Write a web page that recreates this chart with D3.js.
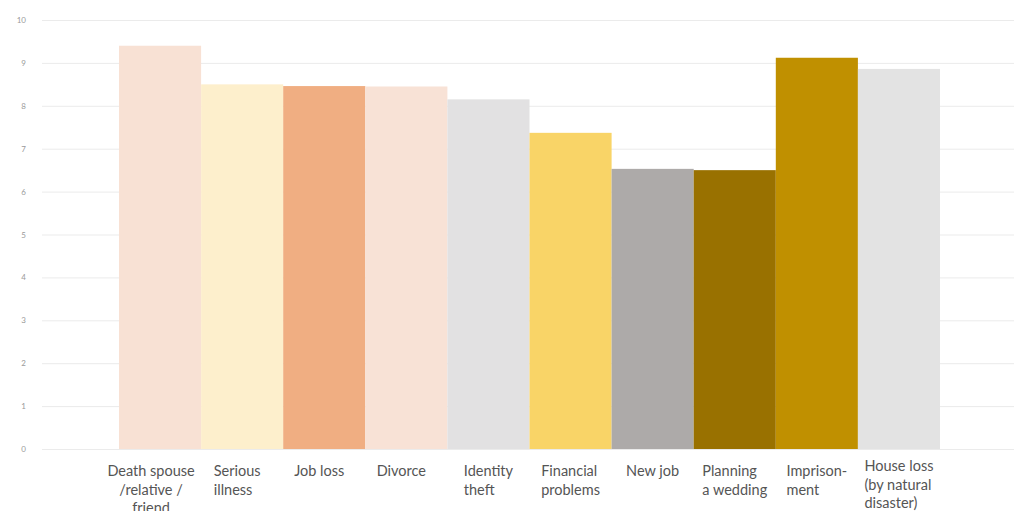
<!DOCTYPE html>
<html>
<head>
<meta charset="utf-8">
<script src="https://cdn.jsdelivr.net/npm/d3@7"></script>
<style>
  body { margin: 0; background: #fff; }
</style>
</head>
<body>
<div id="chart"></div>
<script>
// data
var categories = ["Death spouse", "Serious illness", "Job loss", "Divorce", "Identity theft",
  "Financial problems", "New job", "Planning a wedding", "Imprisonment", "House loss"];
var labelLines = [
  ["Death spouse", "/relative /", "friend"],
  ["Serious", "illness"],
  ["Job loss"],
  ["Divorce"],
  ["Identity", "theft"],
  ["Financial", "problems"],
  ["New job"],
  ["Planning", "a wedding"],
  ["Imprison-", "ment"],
  ["House loss", "(by natural", "disaster)"]
];
var values = [9.4, 8.5, 8.46, 8.45, 8.15, 7.37, 6.53, 6.5, 9.12, 8.86];
var barColors = ["#f8e1d4", "#fdefcc", "#f0ae82", "#f8e2d6", "#e2e1e2",
  "#f9d467", "#adaaa9", "#997100", "#c09000", "#e3e3e3"];
var yTicks = [0, 1, 2, 3, 4, 5, 6, 7, 8, 9, 10];

var width = 1014, height = 511;
var margin = {top: 20, bottom: 62, left: 119, right: 74};

var svg = d3.select("#chart")
  .append("svg")
  .attr("width", width)
  .attr("height", height);

var x = d3.scaleBand()
  .domain(categories)
  .range([margin.left, width - margin.right])
  .padding(0);

var y = d3.scaleLinear()
  .domain([0, 10])
  .range([height - margin.bottom, margin.top]);

// gridlines + tick labels
var yAxis = svg.append("g")
  .attr("transform", "translate(26,0)")
  .call(d3.axisLeft(y).tickValues(yTicks).tickSize(0).tickPadding(0));
yAxis.select(".domain").remove();
yAxis.selectAll("text")
  .attr("fill", "#9a9a9a")
  .attr("font-family", "Lato, sans-serif")
  .attr("font-size", "8px");
yAxis.selectAll(".tick").append("line")
  .attr("x1", 16)
  .attr("x2", width)
  .attr("stroke", "#ebebeb")
  .attr("stroke-width", 1);

// bars
svg.append("g")
  .selectAll("rect")
  .data(values)
  .join("rect")
  .attr("x", function(d, i) { return x(categories[i]); })
  .attr("y", function(d) { return y(d); })
  .attr("width", x.bandwidth())
  .attr("height", function(d) { return y(0) - y(d); })
  .attr("fill", function(d, i) { return barColors[i]; });

// category labels, left aligned block centred under the bar (first one centred per line)
var labels = svg.append("g")
  .attr("font-family", "Lato, sans-serif")
  .attr("font-size", "14.5px")
  .attr("fill", "#555");

categories.forEach(function(c, i) {
  var last = i == categories.length - 1;
  var t = labels.append("text")
    .attr("y", last ? 471 : 476);
  labelLines[i].forEach(function(line, k) {
    t.append("tspan")
      .attr("dy", k == 0 ? 0 : 18.5)
      .text(line);
  });
  var cx = x(c) + x.bandwidth() / 2;
  if (i == 0) {
    t.attr("text-anchor", "middle");
    t.selectAll("tspan").attr("x", cx - 9);
  } else {
    var w = d3.max(t.selectAll("tspan").nodes(), function(n) { return n.getComputedTextLength(); });
    t.selectAll("tspan").attr("x", cx - w / 2 - (i < 4 ? 5 : 0));
  }
});
</script>
</body>
</html>
